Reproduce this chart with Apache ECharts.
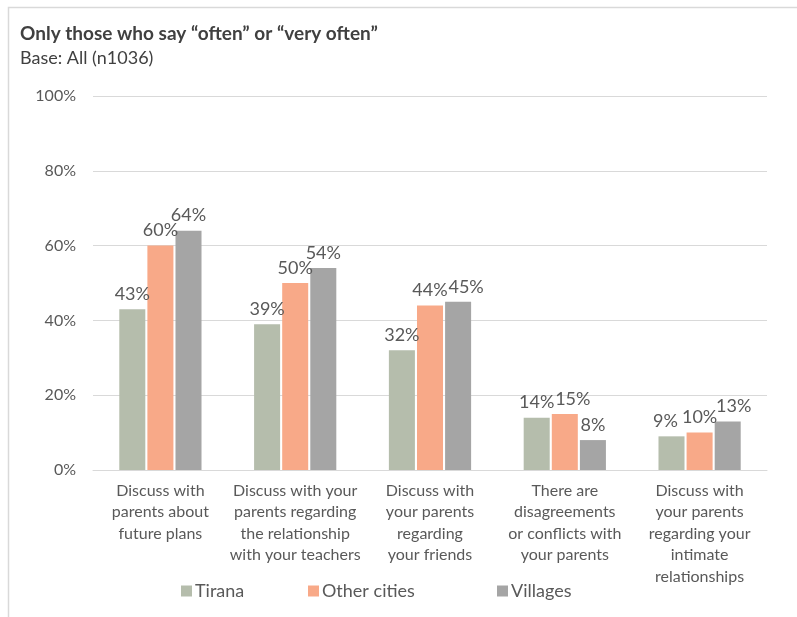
<!DOCTYPE html>
<html>
<head>
<meta charset="utf-8">
<script src="https://cdn.jsdelivr.net/npm/echarts@6/dist/echarts.min.js"></script>
<style>
  html, body { margin: 0; padding: 0; background: #fff; }
  #chart { width: 797px; height: 617px; }
</style>
</head>
<body>
<div id="chart"></div>
<script>
// Frequency of parent–child conversations, by place of residence
const categories = [
  'Discuss with\nparents about\nfuture plans',
  'Discuss with your\nparents regarding\nthe relationship\nwith your teachers',
  'Discuss with\nyour parents\nregarding\nyour friends',
  'There are\ndisagreements\nor conflicts with\nyour parents',
  'Discuss with\nyour parents\nregarding your\nintimate\nrelationships'
];
const seriesNames = ['Tirana', 'Other cities', 'Villages'];
const tirana = [43, 39, 32, 14, 9];
const otherCities = [60, 50, 44, 15, 10];
const villages = [64, 54, 45, 8, 13];
const yTicks = [0, 20, 40, 60, 80, 100];

const FONT = 'Lato, "Liberation Sans", sans-serif';
const TXT = '#595959';
const COLORS = ['#b5bdac', '#f8a988', '#a5a5a5'];
const allSeries = [tirana, otherCities, villages];

const chart = echarts.init(document.getElementById('chart'), null, { renderer: 'canvas' });

// Value labels of adjacent bars at nearly the same height collide;
// spread such runs sideways (last label right, first of a triple left).
const NEAR = 4;   // percentage points
const SHIFT = 8;  // px
function labelShift(seriesIndex, dataIndex) {
  const v = allSeries.map(s => s[dataIndex]);
  const near = (a, b) => Math.abs(v[a] - v[b]) < NEAR;
  // find the run of colliding neighbours that contains seriesIndex
  let start = seriesIndex, end = seriesIndex;
  while (start > 0 && near(start - 1, start)) start--;
  while (end < v.length - 1 && near(end, end + 1)) end++;
  const len = end - start + 1;
  if (len === 2) return seriesIndex === end ? SHIFT : 0;
  if (len === 3) return seriesIndex === start ? -SHIFT * 0.75 : (seriesIndex === end ? SHIFT * 0.75 : 0);
  return 0;
}

function barSeries(idx, data) {
  return {
    name: seriesNames[idx],
    type: 'bar',
    data: data,
    barGap: '8%',
    barCategoryGap: '39%',
    itemStyle: { color: COLORS[idx] },
    label: {
      show: true,
      position: 'top',
      distance: 6,
      formatter: '{c}%',
      color: TXT,
      fontFamily: FONT,
      fontSize: 18
    },
    labelLayout: params => ({ dx: labelShift(params.seriesIndex, params.dataIndex) })
  };
}

// one legend block per series so each entry sits at its own x position
const legendLefts = [181, 308, 497];
const legends = seriesNames.map((n, i) => ({
  left: legendLefts[i],
  top: 582,
  padding: 0,
  itemWidth: 11,
  itemHeight: 11,
  icon: 'rect',
  textStyle: { fontFamily: FONT, fontSize: 18, color: TXT, padding: [0, 0, 0, -2] },
  data: [n]
}));

chart.setOption({
  backgroundColor: '#ffffff',
  animation: false,
  title: {
    text: 'Only those who say \u201coften\u201d or \u201cvery often\u201d',
    subtext: 'Base: All (n1036)',
    left: 15,
    top: 19,
    itemGap: 6,
    textStyle: { fontFamily: FONT, fontSize: 19, fontWeight: 'bold', color: '#404040' },
    subtextStyle: { fontFamily: FONT, fontSize: 18, color: '#404040' }
  },
  legend: legends,
  grid: { left: 93, right: 30, top: 96, bottom: 147, containLabel: false },
  xAxis: {
    type: 'category',
    data: categories,
    axisLine: { show: true, lineStyle: { color: '#d9d9d9', width: 1 } },
    axisTick: { show: false },
    axisLabel: {
      interval: 0,
      margin: 10,
      color: TXT,
      fontFamily: FONT,
      fontSize: 16,
      lineHeight: 21.5,
      align: 'center'
    }
  },
  yAxis: {
    type: 'value',
    min: yTicks[0],
    max: yTicks[yTicks.length - 1],
    interval: 20,
    axisLine: { show: false },
    axisTick: { show: false },
    splitLine: { lineStyle: { color: '#d9d9d9', width: 1 } },
    axisLabel: {
      margin: 17,
      color: TXT,
      fontFamily: FONT,
      fontSize: 16,
      formatter: '{value}%'
    }
  },
  graphic: [{
    type: 'rect',
    shape: { x: 8.5, y: 7.5, width: 900, height: 700 },
    style: { fill: 'none', stroke: '#d9d9d9', lineWidth: 1.5 },
    silent: true
  }],
  series: allSeries.map((d, i) => barSeries(i, d))
});
</script>
</body>
</html>
